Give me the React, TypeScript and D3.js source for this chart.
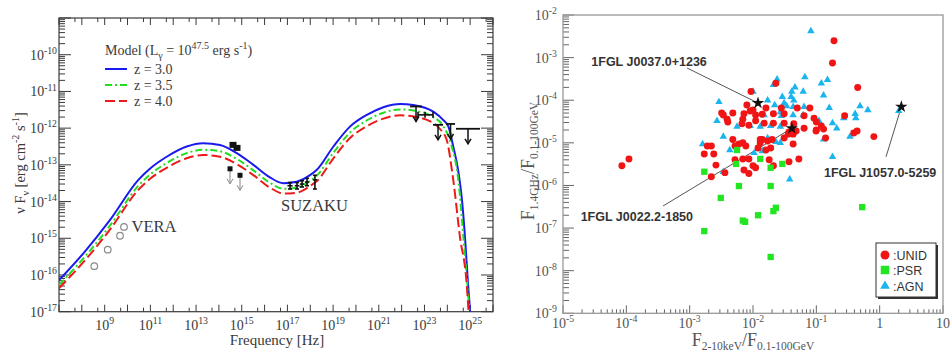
import * as d3 from 'd3';

type Pt = [number, number];

// ---- Left panel: SED models, [frequency Hz, nuFnu erg cm^-2 s^-1] ----
const modelZ30: Pt[] = [
  [1e7, 7.24e-17], [1.17e8, 3.89e-16], [1.72e9, 3.16e-15], [2.98e10, 3.89e-14],
  [1.07e11, 8.32e-14], [5.16e11, 1.66e-13], [3.88e12, 3.16e-13], [2.06e13, 3.89e-13],
  [1.12e14, 3.47e-13], [6.08e14, 2.09e-13], [3.23e15, 1.0e-13], [1.71e16, 4.57e-14],
  [6.58e16, 3.16e-14], [2.52e17, 3.47e-14], [9.68e17, 5.25e-14], [1.9e18, 7.24e-14],
  [1.03e19, 3.16e-13], [5.48e19, 1.1e-12], [2.98e20, 2.29e-12], [1.58e21, 3.72e-12],
  [8.59e21, 4.57e-12], [3.22e22, 4.27e-12], [2.42e23, 2.82e-12], [6.71e23, 1.66e-12],
  [1.12e24, 1.1e-12], [1.82e24, 3.16e-13], [2.96e24, 7.24e-14], [4.39e24, 1.1e-14],
  [5.93e24, 1.1e-15], [8.02e24, 6.03e-17], [1e25, 1e-17],
];
const modelZ35: Pt[] = [
  [1e7, 5.37e-17], [1.17e8, 2.82e-16], [1.72e9, 2.24e-15], [2.98e10, 2.69e-14],
  [1.07e11, 5.75e-14], [5.16e11, 1.12e-13], [3.88e12, 2.09e-13], [2.06e13, 2.57e-13],
  [1.12e14, 2.34e-13], [6.08e14, 1.45e-13], [3.23e15, 7.08e-14], [1.71e16, 3.24e-14],
  [6.58e16, 2.24e-14], [2.52e17, 2.4e-14], [9.68e17, 3.63e-14], [1.9e18, 5.01e-14],
  [1.03e19, 2.14e-13], [5.48e19, 7.59e-13], [2.98e20, 1.62e-12], [1.58e21, 2.63e-12],
  [8.59e21, 3.24e-12], [3.22e22, 3.02e-12], [2.42e23, 2.0e-12], [6.71e23, 1.12e-12],
  [1.48e24, 3.55e-13], [3.03e24, 3.89e-14], [5.05e24, 1.1e-15], [7.48e24, 5.89e-17],
  [9.23e24, 1.12e-17],
];
const modelZ40: Pt[] = [
  [1e7, 4.37e-17], [1.17e8, 2.24e-16], [1.72e9, 1.74e-15], [2.98e10, 2.09e-14],
  [1.07e11, 4.37e-14], [5.16e11, 8.32e-14], [3.88e12, 1.51e-13], [2.06e13, 1.86e-13],
  [1.12e14, 1.66e-13], [6.08e14, 1.05e-13], [3.23e15, 5.25e-14], [1.71e16, 2.4e-14],
  [6.58e16, 1.66e-14], [2.52e17, 1.74e-14], [9.68e17, 2.63e-14], [1.9e18, 3.55e-14],
  [1.03e19, 1.51e-13], [5.48e19, 5.37e-13], [2.98e20, 1.12e-12], [1.58e21, 1.82e-12],
  [8.59e21, 2.24e-12], [3.22e22, 2.09e-12], [2.42e23, 1.38e-12], [5.2e23, 8.91e-13],
  [9.51e23, 4.68e-13], [1.82e24, 3.89e-14], [3.57e24, 1.1e-15], [7.0e24, 5.89e-17],
  [8.41e24, 1.12e-17],
];

const veraPoints: Pt[] = [[3.5e8, 1.74e-16], [1.36e9, 4.9e-16], [4.69e9, 1.17e-15], [7.0e9, 2.04e-15]];
const opticalPoints: Pt[] = [[4.15e14, 3.5e-13], [6.2e14, 2.9e-13]];
const opticalLimits: Pt[] = [[3.07e14, 7.8e-14], [8.4e14, 5.2e-14]];
// [nu, flux, nuLo, nuHi, fluxLo, fluxHi]
const suzakuPoints = [
  [1.3e17, 2.7e-14, 1.0e17, 1.7e17, 2.2e-14, 3.3e-14],
  [2.63e17, 2.7e-14, 2.1e17, 3.3e17, 2.2e-14, 3.3e-14],
  [4.36e17, 3.0e-14, 3.5e17, 5.4e17, 2.5e-14, 3.7e-14],
  [7.2e17, 3.4e-14, 5.8e17, 8.9e17, 2.7e-14, 4.3e-14],
  [1.6e18, 3.9e-14, 1.3e18, 2.0e18, 2.2e-14, 5.2e-14],
];
// LAT upper limits [nuLo, nuHi, flux]
const latLimits = [
  [2.33e22, 7.8e22, 3.9e-12],
  [2.37e23, 6.5e23, 1.23e-12],
  [8.8e23, 2.18e24, 1.3e-12],
  [2.4e24, 2.7e25, 9.6e-13],
];
// LAT detection [nu, flux, nuLo, nuHi]
const latPoints = [[1.06e23, 2.3e-12, 5.2e22, 2.37e23]];

const modelNames = ['z = 3.0', 'z = 3.5', 'z = 4.0'];

// ---- Right panel: flux ratios [F2-10keV/F0.1-100GeV, F1.4GHz/F0.1-100GeV] ----
const unidSources: Pt[] = [
  [8.5e-5, 2.9e-6], [1.1e-4, 4.2e-6], [1.9e-3, 8.4e-6], [2.2e-3, 8.4e-6], [1.7e-3, 5.5e-6],
  [2.4e-3, 5.5e-6], [2.6e-3, 3.0e-6], [2.2e-3, 1.6e-6], [0.19, 2.5e-3], [0.18, 7.5e-4],
  [0.45, 2.0e-4], [0.023, 2.5e-4], [9.3e-3, 1.6e-4], [8.0e-3, 7.7e-5], [1.0e-2, 5.9e-5],
  [9.0e-3, 5.6e-5], [3.2e-3, 5.0e-5], [3.4e-3, 4.5e-5], [4.8e-3, 5.0e-5], [7.2e-3, 4.8e-5],
  [3.9e-3, 3.6e-5], [4.0e-3, 3.1e-5], [0.016, 6.6e-5], [0.021, 4.8e-5], [0.028, 6.6e-5],
  [0.031, 4.8e-5], [0.05, 6.6e-5], [0.079, 6.6e-5], [0.092, 3.8e-5], [0.1, 3.1e-5],
  [0.28, 4.3e-5], [6.9e-3, 3.6e-5], [0.011, 3.3e-5], [0.015, 2.9e-5], [0.021, 2.9e-5],
  [0.031, 2.9e-5], [0.044, 2.8e-5], [6.7e-3, 2.8e-5], [8.6e-3, 2.6e-5], [0.12, 2.5e-5],
  [0.13, 2.1e-5], [0.1, 2.0e-5], [0.064, 2.2e-5], [0.39, 1.7e-5], [0.44, 1.9e-5],
  [0.81, 1.4e-5], [0.037, 1.8e-5], [0.043, 1.6e-5], [0.14, 1.3e-5], [4.8e-3, 1.2e-5],
  [0.013, 1.2e-5], [0.014, 1.2e-5], [0.013, 1.0e-5], [0.017, 1.1e-5], [0.02, 1.2e-5],
  [0.031, 1.3e-5], [0.036, 1.6e-5], [0.043, 9.4e-6], [6.9e-3, 1.0e-5], [7.7e-3, 8.4e-6],
  [6.0e-3, 9.4e-6], [5.2e-3, 8.4e-6], [0.012, 7.6e-6], [0.016, 6.8e-6], [0.019, 7.6e-6],
  [6.9e-3, 4.2e-6], [8.6e-3, 4.2e-6], [5.2e-3, 4.0e-6], [7.2e-3, 2.3e-6], [8.6e-3, 1.9e-6],
  [0.01, 2.9e-6], [0.011, 2.6e-6], [0.018, 4.0e-6], [0.021, 2.9e-6], [0.037, 3.6e-6],
  [0.053, 4.2e-6], [3.6e-3, 2.0e-6], [0.099, 1.9e-5], [0.064, 4.3e-5], [0.048, 1.9e-5],
  [0.011, 4.5e-5], [0.014, 4.7e-5],
];
const psrSources: Pt[] = [
  [1.7e-3, 2.1e-6], [1.7e-3, 8.5e-8], [3.1e-3, 5.1e-7], [5.6e-3, 6.8e-6], [5.4e-3, 3.2e-6],
  [0.013, 4.2e-6], [0.019, 2.6e-6], [0.029, 3.2e-6], [6.0e-3, 9.7e-7], [6.9e-3, 1.5e-7],
  [7.5e-3, 1.4e-7], [0.012, 2.0e-7], [0.019, 9.7e-7], [0.021, 2.5e-7], [0.023, 3.0e-7],
  [0.019, 2.1e-8], [0.53, 3.1e-7],
];
const agnSources: Pt[] = [
  [0.082, 4.2e-3], [0.066, 3.5e-4], [0.15, 3.0e-4], [0.12, 2.5e-4], [0.024, 3.1e-4],
  [0.021, 2.3e-4], [0.01, 1.6e-4], [0.046, 2.0e-4], [0.041, 1.6e-4], [0.062, 1.6e-4],
  [0.13, 1.3e-4], [0.029, 1.2e-4], [0.04, 1.2e-4], [0.031, 8.6e-5], [0.044, 1.0e-4],
  [2.9e-3, 9.1e-5], [0.017, 1.0e-4], [0.022, 7.7e-5], [0.034, 7.3e-5], [0.043, 7.0e-5],
  [0.064, 7.0e-5], [0.16, 6.6e-5], [0.49, 7.3e-5], [0.65, 5.9e-5], [0.41, 4.8e-5],
  [0.42, 3.8e-5], [0.27, 3.8e-5], [0.027, 5.3e-5], [0.015, 4.5e-5], [0.028, 4.3e-5],
  [0.043, 4.5e-5], [0.062, 4.5e-5], [0.11, 3.3e-5], [2.7e-3, 3.3e-5], [5.6e-3, 2.4e-5],
  [9.0e-3, 2.5e-5], [0.013, 2.4e-5], [0.019, 2.5e-5], [0.027, 2.4e-5], [0.18, 2.9e-5],
  [0.21, 2.2e-5], [0.34, 1.4e-5], [0.13, 1.2e-5], [3.4e-3, 1.4e-5], [0.017, 1.3e-5],
  [0.027, 1.0e-5], [0.023, 1.05e-5], [4.3e-3, 6.8e-6], [0.0104, 5.8e-6], [0.014, 6.4e-6],
  [0.18, 4.7e-6], [3.4e-3, 2.1e-6], [0.038, 1.4e-6], [1.6e-3, 9.4e-6], [2.0, 5.6e-5],
];
const highlighted = [
  { name: '1FGL J0037.0+1236', at: [0.012, 8.6e-5], from: [9.1e-4, 5.7e-4], label: [2.8e-5, 6.3e-4] },
  { name: '1FGL J0022.2-1850', at: [0.041, 2.2e-5], from: [3.8e-4, 3.3e-7], label: [1.9e-5, 1.5e-7] },
  { name: '1FGL J1057.0-5259', at: [2.2, 7.0e-5], from: [1.26, 4.7e-6], label: [0.132, 1.6e-6] },
];
const classNames = [':UNID', ':PSR', ':AGN'];

const SERIF = "'Liberation Serif', 'Times New Roman', serif";
const SANS = "'Liberation Sans', Arial, Helvetica, sans-serif";
const MODEL_COLORS = ['#1a1aee', '#22dd22', '#ee1a1a'];
const MODEL_DASH = ['none', '7,3,2,3', '10,4'];
const UNID_COLOR = '#f01414';
const PSR_COLOR = '#22e622';
const AGN_COLOR = '#1ab4ee';

function Pow10({ exp, size }: { exp: number; size: number }) {
  return (
    <>
      <tspan>10</tspan>
      <tspan dy={-size * 0.42} fontSize={size * 0.7}>{exp}</tspan>
    </>
  );
}

function DownArrow({ x, y, len, color, width = 1 }: { x: number; y: number; len: number; color: string; width?: number }) {
  return (
    <g stroke={color} strokeWidth={width} fill="none">
      <line x1={x} y1={y} x2={x} y2={y + len} />
      <polyline points={`${x - 3},${y + len - 5} ${x},${y + len} ${x + 3},${y + len - 5}`} />
    </g>
  );
}

function SedPanel() {
  const f = { left: 59, right: 493, top: 18, bottom: 311.7 };
  const x = d3.scaleLog().domain([1e7, 1e26]).range([f.left, f.right]);
  const y = d3.scaleLog().domain([1e-17, 1e-9]).range([f.bottom, f.top]);
  const line = d3.line<Pt>().x(d => x(d[0])).y(d => y(d[1])).curve(d3.curveMonotoneX);
  const ink = '#3a3a3a';

  const xDec = d3.range(7, 27);
  const xMinor = d3.range(7, 26).map(k => 5 * 10 ** k);
  const yDec = d3.range(-17, -8);
  const yMinor = d3.range(-17, -9).flatMap(k => d3.range(2, 10).map(m => m * 10 ** k));

  return (
    <g>
      <defs>
        <clipPath id="sedClip">
          <rect x={f.left} y={f.top} width={f.right - f.left} height={f.bottom - f.top} />
        </clipPath>
      </defs>
      {/* ticks */}
      <g stroke={ink} strokeWidth={1}>
        {xDec.map(k => (
          <g key={`xd${k}`}>
            <line x1={x(10 ** k)} x2={x(10 ** k)} y1={f.bottom} y2={f.bottom - 7} />
            <line x1={x(10 ** k)} x2={x(10 ** k)} y1={f.top} y2={f.top + 7} />
          </g>
        ))}
        {xMinor.map(v => (
          <g key={`xm${v}`}>
            <line x1={x(v)} x2={x(v)} y1={f.bottom} y2={f.bottom - 4} />
            <line x1={x(v)} x2={x(v)} y1={f.top} y2={f.top + 4} />
          </g>
        ))}
        {yDec.map(k => (
          <g key={`yd${k}`}>
            <line x1={f.left} x2={f.left + 12} y1={y(10 ** k)} y2={y(10 ** k)} />
            <line x1={f.right} x2={f.right - 12} y1={y(10 ** k)} y2={y(10 ** k)} />
          </g>
        ))}
        {yMinor.map(v => (
          <g key={`ym${v}`}>
            <line x1={f.left} x2={f.left + 6} y1={y(v)} y2={y(v)} />
            <line x1={f.right} x2={f.right - 6} y1={y(v)} y2={y(v)} />
          </g>
        ))}
      </g>
      <rect x={f.left} y={f.top} width={f.right - f.left} height={f.bottom - f.top} fill="none" stroke={ink} strokeWidth={1.2} />

      {/* tick labels */}
      <g fontFamily={SERIF} fill={ink} fontSize={14}>
        {xDec.filter(k => k % 2 === 1 && k >= 9 && k <= 25).map(k => (
          <text key={`xl${k}`} x={x(10 ** k)} y={f.bottom + 18} textAnchor="middle">
            <Pow10 exp={k} size={14} />
          </text>
        ))}
        {yDec.filter(k => k <= -10).map(k => (
          <text key={`yl${k}`} x={f.left - 2} y={y(10 ** k) + 5} textAnchor="end">
            <Pow10 exp={k} size={14} />
          </text>
        ))}
      </g>

      {/* axis titles */}
      <text x={277} y={344.5} fontFamily={SERIF} fontSize={15} fill={ink} textAnchor="middle">Frequency [Hz]</text>
      <text transform="translate(25,163) rotate(-90)" fontFamily={SERIF} fontSize={14.5} fill={ink} textAnchor="middle">
        ν F<tspan dy={4} fontSize={10}>ν</tspan>
        <tspan dy={-4}> [erg cm</tspan>
        <tspan dy={-6} fontSize={10}>-2</tspan>
        <tspan dy={6}> s</tspan>
        <tspan dy={-6} fontSize={10}>-1</tspan>
        <tspan dy={6}>]</tspan>
      </text>

      {/* models */}
      <g clipPath="url(#sedClip)" fill="none" strokeWidth={2}>
        {[modelZ30, modelZ35, modelZ40].map((m, i) => (
          <path key={i} d={line(m) ?? ''} stroke={MODEL_COLORS[i]} strokeDasharray={MODEL_DASH[i]} />
        ))}
      </g>

      {/* VERA */}
      {veraPoints.map((d, i) => (
        <circle key={`v${i}`} cx={x(d[0])} cy={y(d[1])} r={3.3} fill="none" stroke="#8a8a8a" strokeWidth={1.2} />
      ))}
      {/* optical */}
      {opticalPoints.map((d, i) => (
        <rect key={`o${i}`} x={x(d[0]) - 3.5} y={y(d[1]) - 3} width={7} height={6} fill="#111" />
      ))}
      {opticalLimits.map((d, i) => (
        <g key={`ol${i}`}>
          <DownArrow x={x(d[0])} y={y(d[1])} len={15} color="#888" />
          <rect x={x(d[0]) - 2.5} y={y(d[1]) - 2.5} width={5} height={5} fill="#111" />
        </g>
      ))}
      {/* SUZAKU */}
      <g stroke="#111" strokeWidth={1.6}>
        {suzakuPoints.map((d, i) => (
          <g key={`s${i}`}>
            <line x1={x(d[2])} x2={x(d[3])} y1={y(d[1])} y2={y(d[1])} />
            <line x1={x(d[0])} x2={x(d[0])} y1={y(d[4])} y2={y(d[5])} />
            <line x1={x(d[0]) - 2} x2={x(d[0]) + 2} y1={y(d[4])} y2={y(d[4])} />
            <line x1={x(d[0]) - 2} x2={x(d[0]) + 2} y1={y(d[5])} y2={y(d[5])} />
          </g>
        ))}
      </g>
      {/* LAT */}
      {latLimits.map((d, i) => {
        const xc = x(Math.sqrt(d[0] * d[1]));
        return (
          <g key={`u${i}`}>
            <line x1={x(d[0])} x2={x(d[1])} y1={y(d[2])} y2={y(d[2])} stroke="#111" strokeWidth={1.8} />
            <DownArrow x={xc} y={y(d[2])} len={15} color="#111" width={1.5} />
          </g>
        );
      })}
      {latPoints.map((d, i) => (
        <g key={`lp${i}`} stroke="#111" strokeWidth={1.6}>
          <line x1={x(d[2])} x2={x(d[3])} y1={y(d[1])} y2={y(d[1])} />
          <line x1={x(d[2])} x2={x(d[2])} y1={y(d[1]) - 3} y2={y(d[1]) + 3} />
          <line x1={x(d[3])} x2={x(d[3])} y1={y(d[1]) - 3} y2={y(d[1]) + 3} />
          <line x1={x(d[0])} x2={x(d[0])} y1={y(d[1]) - 3} y2={y(d[1]) + 3} />
        </g>
      ))}

      {/* labels */}
      <text x={131.5} y={232} fontFamily={SERIF} fontSize={16.5} fill={ink}>VERA</text>
      <text x={281} y={211} fontFamily={SERIF} fontSize={16.5} fill={ink}>SUZAKU</text>

      {/* legend */}
      <g fontFamily={SERIF} fill={ink} fontSize={14}>
        <text x={105} y={55}>
          Model (L<tspan dy={4} fontSize={10}>γ</tspan>
          <tspan dy={-4}> = 10</tspan>
          <tspan dy={-6} fontSize={10}>47.5</tspan>
          <tspan dy={6}> erg s</tspan>
          <tspan dy={-6} fontSize={10}>-1</tspan>
          <tspan dy={6}>)</tspan>
        </text>
        {modelNames.map((n, i) => (
          <g key={n}>
            <line x1={105} x2={127} y1={69 + i * 16} y2={69 + i * 16} stroke={MODEL_COLORS[i]} strokeWidth={2} strokeDasharray={MODEL_DASH[i]} />
            <text x={134} y={74 + i * 16}>{n}</text>
          </g>
        ))}
      </g>
    </g>
  );
}

function RatioPanel() {
  const f = { left: 563, right: 943, top: 15, bottom: 313.3 };
  const x = d3.scaleLog().domain([1e-5, 10]).range([f.left, f.right]);
  const y = d3.scaleLog().domain([1e-9, 1e-2]).range([f.bottom, f.top]);
  const tickInk = '#666';
  const labelInk = '#555';

  const xDec = d3.range(-5, 2);
  const xMinor = d3.range(-5, 1).flatMap(k => d3.range(2, 10).map(m => m * 10 ** k));
  const yDec = d3.range(-9, -1);
  const yMinor = d3.range(-9, -2).flatMap(k => d3.range(2, 10).map(m => m * 10 ** k));

  const circle = d3.symbol(d3.symbolCircle, 38)() ?? '';
  const square = d3.symbol(d3.symbolSquare, 40)() ?? '';
  const tri = d3.symbol(d3.symbolTriangle, 24)() ?? '';
  const star = d3.symbol(d3.symbolStar, 48)() ?? '';

  const xLabel = (k: number) => (k === 0 ? '1' : k === 1 ? '10' : null);

  return (
    <g>
      <g stroke={tickInk} strokeWidth={1}>
        {xDec.map(k => (
          <line key={`xd${k}`} x1={x(10 ** k)} x2={x(10 ** k)} y1={f.bottom} y2={f.bottom - 8} />
        ))}
        {xMinor.map(v => (
          <line key={`xm${v}`} x1={x(v)} x2={x(v)} y1={f.bottom} y2={f.bottom - 4} />
        ))}
        {yDec.map(k => (
          <line key={`yd${k}`} x1={f.left} x2={f.left + 11} y1={y(10 ** k)} y2={y(10 ** k)} />
        ))}
        {yMinor.map(v => (
          <line key={`ym${v}`} x1={f.left} x2={f.left + 6} y1={y(v)} y2={y(v)} />
        ))}
      </g>
      <rect x={f.left} y={f.top} width={f.right - f.left} height={f.bottom - f.top} fill="none" stroke="#999" strokeWidth={1.3} />

      <g fontFamily={SERIF} fill={labelInk} fontSize={14}>
        {xDec.map(k => (
          <text key={`xl${k}`} x={x(10 ** k)} y={f.bottom + 15} textAnchor="middle">
            {xLabel(k) ?? <Pow10 exp={k} size={14} />}
          </text>
        ))}
        {yDec.map(k => (
          <text key={`yl${k}`} x={f.left - 6} y={y(10 ** k) + 5} textAnchor="end">
            <Pow10 exp={k} size={14} />
          </text>
        ))}
      </g>

      {/* axis titles */}
      <text x={753} y={346} fontFamily={SERIF} fontSize={18} fill={labelInk} textAnchor="middle">
        F<tspan dy={3.5} fontSize={11.5}>2-10keV</tspan>
        <tspan dy={-3.5}>/F</tspan>
        <tspan dy={3.5} fontSize={11.5}>0.1-100GeV</tspan>
      </text>
      <text transform="translate(534,161) rotate(-90)" fontFamily={SERIF} fontSize={18} fill={labelInk} textAnchor="middle">
        F<tspan dy={4} fontSize={11.5}>1.4GHz</tspan>
        <tspan dy={-4}>/F</tspan>
        <tspan dy={4} fontSize={11.5}>0.1-100GeV</tspan>
      </text>

      {/* annotation lines */}
      <g stroke="#555" strokeWidth={1}>
        {highlighted.map(h => (
          <line key={h.name} x1={x(h.from[0])} y1={y(h.from[1])} x2={x(h.at[0])} y2={y(h.at[1])} />
        ))}
      </g>

      {/* sources */}
      {agnSources.map((d, i) => (
        <path key={`a${i}`} d={tri} transform={`translate(${x(d[0])},${y(d[1])})`} fill={AGN_COLOR} />
      ))}
      {unidSources.map((d, i) => (
        <path key={`u${i}`} d={circle} transform={`translate(${x(d[0])},${y(d[1])})`} fill={UNID_COLOR} />
      ))}
      {psrSources.map((d, i) => (
        <path key={`p${i}`} d={square} transform={`translate(${x(d[0])},${y(d[1])})`} fill={PSR_COLOR} />
      ))}
      {highlighted.map(h => (
        <path key={`s${h.name}`} d={star} transform={`translate(${x(h.at[0])},${y(h.at[1])})`} fill="#111" />
      ))}

      <g fontFamily={SANS} fontWeight="bold" fontSize={12.5} fill="#333">
        {highlighted.map(h => (
          <text key={`t${h.name}`} x={x(h.label[0])} y={y(h.label[1])}>{h.name}</text>
        ))}
      </g>

      {/* legend */}
      <g>
        <rect x={878} y={245} width={60} height={54} fill="#333" />
        <rect x={876} y={243} width={60} height={54} fill="#fff" stroke="#333" strokeWidth={1} />
        <path d={d3.symbol(d3.symbolCircle, 64)() ?? ''} transform="translate(885,255)" fill={UNID_COLOR} />
        <path d={d3.symbol(d3.symbolSquare, 72)() ?? ''} transform="translate(885,270)" fill={PSR_COLOR} />
        <path d={d3.symbol(d3.symbolTriangle, 40)() ?? ''} transform="translate(885,286)" fill={AGN_COLOR} />
        <g fontFamily={SANS} fontSize={12.5} fill="#333">
          {classNames.map((c, i) => (
            <text key={c} x={893} y={259.5 + i * 15.5}>{c}</text>
          ))}
        </g>
      </g>
    </g>
  );
}

export default function App() {
  return (
    <svg
      width={950}
      height={352}
      viewBox="0 0 950 352"
      style={{ position: 'absolute', left: 0, top: 0, display: 'block', background: '#fff' }}
    >
      <SedPanel />
      <RatioPanel />
    </svg>
  );
}
